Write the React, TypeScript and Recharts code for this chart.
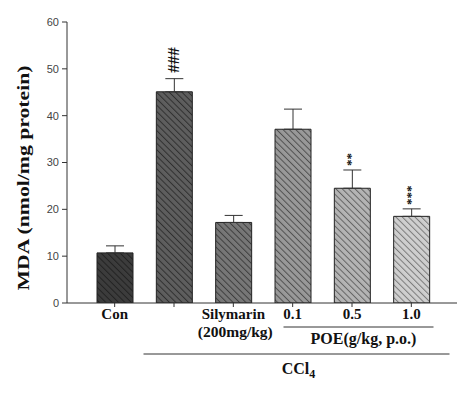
import React from 'react';
import { BarChart, Bar, XAxis, YAxis, ErrorBar, Cell, LabelList } from 'recharts';

const categories = ['Con', 'CCl4', 'Silymarin', '0.1', '0.5', '1.0'];
const tickLabels = ['Con', '', 'Silymarin', '0.1', '0.5', '1.0'];
const means = [10.7, 45.1, 17.2, 37.1, 24.5, 18.5];
const sems = [1.5, 2.8, 1.5, 4.3, 3.9, 1.6];
const marks = ['', '###', '', '', '**', '***'];
const yTicks = [0, 10, 20, 30, 40, 50, 60];

const baseColors = ['#3c3c3c', '#5e5e5e', '#777777', '#999999', '#b4b4b4', '#cfcfcf'];
const lineColors = ['#222222', '#303030', '#3e3e3e', '#505050', '#636363', '#7a7a7a'];

const data = categories.map((c, i) => ({
  cat: c,
  label: tickLabels[i],
  mean: means[i],
  err: [0, sems[i]],
  mark: marks[i],
}));

const serif = '"Liberation Serif", "Times New Roman", serif';

const XTick = (props: any) => {
  const { x, y, payload, index } = props;
  const label = tickLabels[index] ?? payload.value;
  const items: React.ReactNode[] = [];
  items.push(
    <text key="l" x={x} y={y + 10} textAnchor="middle" fontFamily={serif} fontWeight="bold" fontSize={15} fill="#111">
      {label}
    </text>
  );
  if (index === 2) {
    items.push(
      <text key="s" x={x + 2} y={y + 28} textAnchor="middle" fontFamily={serif} fontWeight="bold" fontSize={15.5} fill="#111">
        (200mg/kg)
      </text>
    );
  }
  if (index === 4) {
    items.push(
      <line key="pl" x1={x - 68.5} x2={x + 81.5} y1={327} y2={327} stroke="#333" strokeWidth={1} />,
      <text key="pt" x={x + 11.5} y={344} textAnchor="middle" fontFamily={serif} fontWeight="bold" fontSize={16} fill="#111">
        POE(g/kg, p.o.)
      </text>,
      <line key="cl" x1={x - 208.5} x2={x + 97.5} y1={354} y2={354} stroke="#333" strokeWidth={1} />,
      <text key="ct" x={x - 53.5} y={374} textAnchor="middle" fontFamily={serif} fontWeight="bold" fontSize={16} fill="#111">
        CCl<tspan dy={4} fontSize={12}>4</tspan>
      </text>
    );
  }
  return <g>{items}</g>;
};

const MarkLabel = (props: any) => {
  const { x, y, width, height, index } = props;
  const mark = marks[index];
  if (!mark) return null;
  const mean = means[index];
  const pxPerUnit = height / mean;
  const errTop = y - sems[index] * pxPerUnit;
  const cx = x + width / 2;
  const isHash = mark.startsWith('#');
  const fs = isHash ? 17 : 13;
  const gap = isHash ? 6 : 4;
  const px = cx + (isHash ? 5 : 3);
  const py = errTop - gap;
  return (
    <text
      x={px}
      y={py}
      transform={`rotate(-90, ${px}, ${py})`}
      textAnchor="start"
      fontFamily={serif}
      fontWeight="bold"
      fontSize={fs}
      fill="#111"
    >
      {mark}
    </text>
  );
};

const YLabel = () => (
  <text
    x={29}
    y={178}
    transform="rotate(-90 29 178)"
    textAnchor="middle"
    fontFamily={serif}
    fontWeight="bold"
    fontSize={16}
    fill="#111"
    textLength={225}
    lengthAdjust="spacingAndGlyphs"
  >
    MDA (nmol/mg protein)
  </text>
);

export default function App() {
  return (
    <div style={{ position: 'absolute', left: 0, top: 0, width: 474, height: 397, background: '#fff' }}>
      <svg width={0} height={0} style={{ position: 'absolute' }}>
        <defs>
          {baseColors.map((c, i) => (
            <pattern
              key={i}
              id={`hatch${i}`}
              patternUnits="userSpaceOnUse"
              width={4.5}
              height={4.5}
              patternTransform="rotate(-45)"
            >
              <rect width={4.5} height={4.5} fill={c} />
              <line x1={0} y1={0} x2={0} y2={4.5} stroke={lineColors[i]} strokeWidth={2} />
            </pattern>
          ))}
        </defs>
      </svg>
      <BarChart
        width={474}
        height={397}
        data={data}
        margin={{ top: 22, right: 17, bottom: 4, left: 0 }}
      >
        <XAxis
          dataKey="cat"
          type="category"
          height={90}
          padding={{ left: 18, right: 16 }}
          axisLine={{ stroke: '#333', strokeWidth: 1 }}
          tickLine={{ stroke: '#333', strokeWidth: 1 }}
          tickSize={4}
          tickMargin={2}
          tick={<XTick />}
          interval={0}
        />
        <YAxis
          type="number"
          domain={[0, 60]}
          ticks={yTicks}
          width={67}
          axisLine={{ stroke: '#333', strokeWidth: 1 }}
          tickLine={{ stroke: '#333', strokeWidth: 1 }}
          tickSize={5}
          tickMargin={3}
          tick={{ fill: '#444', fontSize: 11, fontFamily: 'Arial, "Liberation Sans", sans-serif' }}
          allowDataOverflow
          label={<YLabel />}
        />
        <Bar dataKey="mean" barSize={36} isAnimationActive={false} stroke="#222" strokeWidth={1}>
          {data.map((d, i) => (
            <Cell key={d.cat} fill={`url(#hatch${i})`} />
          ))}
          <ErrorBar dataKey="err" direction="y" width={9} stroke="#333" strokeWidth={1} isAnimationActive={false} />
          <LabelList dataKey="mark" content={MarkLabel} />
        </Bar>
      </BarChart>
    </div>
  );
}
